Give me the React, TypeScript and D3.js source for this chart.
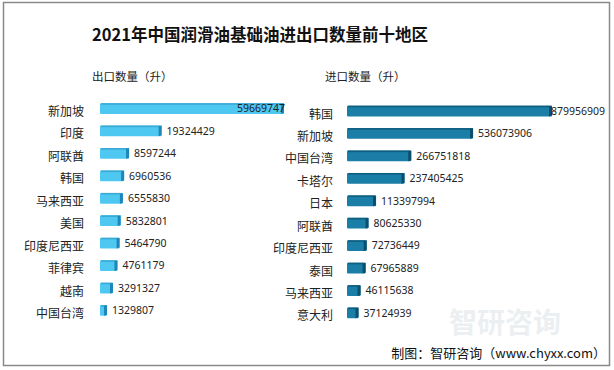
import React, { useRef, useEffect } from 'react';
import * as d3 from 'd3';

const exportRegions = ['新加坡', '印度', '阿联酋', '韩国', '马来西亚', '美国', '印度尼西亚', '菲律宾', '越南', '中国台湾'];
const exportValues = [59669747, 19324429, 8597244, 6960536, 6555830, 5832801, 5464790, 4761179, 3291327, 1329807];

const importRegions = ['韩国', '新加坡', '中国台湾', '卡塔尔', '日本', '阿联酋', '印度尼西亚', '泰国', '马来西亚', '意大利'];
const importValues = [879956909, 536073906, 266751818, 237405425, 113397994, 80625330, 72736449, 67965889, 46115638, 37124939];

const W = 614;
const H = 370;
const CJK = '"Noto Sans CJK SC", "Noto Sans", sans-serif';
const NUM = '"Noto Sans", "Liberation Sans", sans-serif';
const DEPTH = 3; // profondeur de l'effet 3D

type Panel = {
  names: string[];
  values: number[];
  x0: number;
  x1: number;
  y0: number;
  y1: number;
  labelX: number;
  limit: number;
  fill: string;
  top: string;
  cap: string;
};

const App = () => {
  const svgRef = useRef<SVGSVGElement>(null);

  useEffect(() => {
    const svg = d3.select(svgRef.current);
    svg.selectAll('*').remove();

    svg.attr('width', W).attr('height', H);

    svg.append('rect')
      .attr('width', W).attr('height', H).attr('fill', '#fff');

    // cadre gris
    svg.append('rect')
      .attr('x', 3.5).attr('y', 2.5)
      .attr('width', 606).attr('height', 363)
      .attr('fill', 'none')
      .attr('stroke', '#8a8a8a')
      .attr('stroke-width', 1.5);

    svg.append('text')
      .attr('x', 260).attr('y', 41)
      .attr('text-anchor', 'middle')
      .attr('font-family', CJK)
      .attr('font-size', 16.5)
      .attr('font-weight', 'bold')
      .attr('fill', '#111')
      .text('2021年中国润滑油基础油进出口数量前十地区');

    svg.append('text')
      .attr('x', 92).attr('y', 81)
      .attr('font-family', CJK).attr('font-size', 11.5).attr('fill', '#222')
      .text('出口数量（升）');

    svg.append('text')
      .attr('x', 325).attr('y', 81)
      .attr('font-family', CJK).attr('font-size', 11.5).attr('fill', '#222')
      .text('进口数量（升）');

    const panels: Panel[] = [
      {
        names: exportRegions, values: exportValues,
        x0: 100, x1: 284, y0: 91.5, y1: 327.5, labelX: 84, limit: 285,
        fill: '#4fc8f1', top: '#3aa9d4', cap: '#1e86b8',
      },
      {
        names: importRegions, values: importValues,
        x0: 347, x1: 552, y0: 94, y1: 330, labelX: 333, limit: 605,
        fill: '#1a7ea6', top: '#0f5f80', cap: '#0b4f6d',
      },
    ];

    panels.forEach(p => {
      const x = d3.scaleLinear()
        .domain([0, d3.max(p.values) as number])
        .range([p.x0 + DEPTH, p.x1]);

      const y = d3.scaleBand<string>()
        .domain(p.names)
        .range([p.y0, p.y1])
        .padding(0.52);

      const bw = y.bandwidth();
      const g = svg.append('g');

      const rows = g.selectAll('g.row')
        .data(p.names.map((n, i) => ({ name: n, value: p.values[i] })))
        .enter()
        .append('g')
        .attr('class', 'row');

      // face principale
      rows.append('rect')
        .attr('x', p.x0)
        .attr('y', d => y(d.name) as number)
        .attr('width', d => x(d.value) - p.x0)
        .attr('height', bw)
        .attr('rx', 1)
        .attr('fill', p.fill);

      // arête du haut
      rows.append('rect')
        .attr('x', p.x0 + 1)
        .attr('y', d => y(d.name) as number)
        .attr('width', d => Math.max(0, x(d.value) - p.x0 - 2))
        .attr('height', 1.6)
        .attr('fill', p.top);

      // bout droit plus sombre (effet 3D)
      rows.append('path')
        .attr('d', d => {
          const xe = x(d.value);
          const yt = y(d.name) as number;
          return `M${xe - DEPTH},${yt + 1} L${xe},${yt} L${xe},${yt + bw - 1} L${xe - DEPTH},${yt + bw} Z`;
        })
        .attr('fill', p.cap);

      // noms des régions
      rows.append('text')
        .attr('x', p.labelX)
        .attr('y', d => (y(d.name) as number) + bw / 2 + 7.5)
        .attr('text-anchor', 'end')
        .attr('font-family', CJK)
        .attr('font-size', 12)
        .attr('fill', '#222')
        .text(d => d.name);

      // valeurs
      const overflow = (v: number) => x(v) + 5 + String(v).length * 6.05 > p.limit;
      rows.append('text')
        .attr('x', d => (overflow(d.value) ? p.limit : x(d.value) + 5))
        .attr('text-anchor', d => (overflow(d.value) ? 'end' : 'start'))
        .attr('y', d => (y(d.name) as number) + bw / 2 + 3.8)
        .attr('font-family', NUM)
        .attr('font-size', 10.5)
        .attr('fill', '#222')
        .text(d => d.value);
    });

    // filigrane discret
    svg.append('text')
      .attr('x', 505).attr('y', 333)
      .attr('text-anchor', 'middle')
      .attr('font-family', CJK)
      .attr('font-size', 28)
      .attr('font-weight', 'bold')
      .attr('fill', '#eceff2')
      .text('智研咨询');

    svg.append('text')
      .attr('x', 606).attr('y', 357.5)
      .attr('text-anchor', 'end')
      .attr('font-family', CJK)
      .attr('font-size', 13)
      .attr('fill', '#111')
      .text('制图：智研咨询（www.chyxx.com）');
  }, []);

  return <svg ref={svgRef} style={{ position: 'absolute', left: 0, top: 0 }}></svg>;
};

export default App;
